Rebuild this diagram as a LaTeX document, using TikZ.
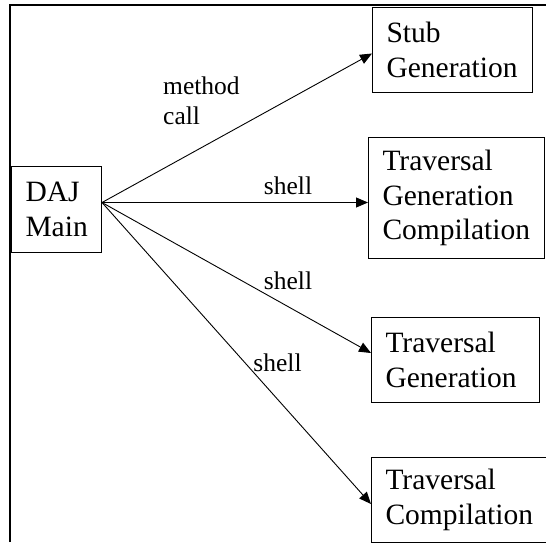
\documentclass[tikz,border=0pt]{standalone}
\usepackage{fontspec}
\setmainfont{Liberation Serif}
\usetikzlibrary{arrows.meta}

\tikzset{
	box/.style={draw, line width=1pt, align=left, anchor=north west, inner xsep=14pt, inner ysep=0pt,
		minimum height=85pt, font=\fontsize{29.5}{34.5}\selectfont},
	lbl/.style={inner sep=0pt, align=left, font=\fontsize{25.5}{30}\selectfont},
	call/.style={->, line width=0.9pt, >={Triangle[length=12pt,width=10pt]}}
}

\begin{document}
\begin{tikzpicture}[x=1pt, y=-1pt]
		\clip (0,0) rectangle (546,542);
		\draw[line width=2.6pt] (10,542) -- (10,5) -- (546,5);

		\node[box, text width=62pt, minimum height=86pt] (daj) at (11,166) {DAJ\\Main};
		\node[box, text width=132pt] (stub) at (372,7) {Stub\\Generation};
		\node[box, text width=148pt, minimum height=121pt] (tgc) at (368,137) {Traversal\\Generation\\Compilation};
		\node[box, text width=140pt] (tg) at (371,317) {Traversal\\Generation};
		\node[box, text width=160pt] (tc) at (371,457) {Traversal\\Compilation};
		\coordinate (hub) at ([yshift=7pt]daj.east);

		\draw[call] (hub) -- ([yshift=-3.5pt]stub.west);
		\draw[call] (hub) -- (hub -| tgc.west);
		\draw[call] (hub) -- ([yshift=7pt]tg.west);
		\draw[call] (hub) -- ([yshift=-4pt]tc.west);

		\node[lbl, anchor=west] (mcall) at (163,100.5) {method\\call};
		\foreach \n/\x/\y in {sh1/288/185.5, sh2/288/280.5, sh3/277.5/362.5}
		\node[lbl] (\n) at (\x,\y) {shell};
		% \draw[help lines] (0,0) grid[step=50] (546,542);
	\end{tikzpicture}
\end{document}
